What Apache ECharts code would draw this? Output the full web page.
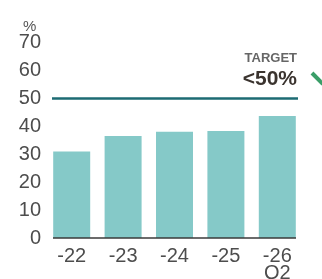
<!DOCTYPE html>
<html>
<head>
<meta charset="utf-8">
<script src="https://cdn.jsdelivr.net/npm/echarts@6/dist/echarts.min.js"></script>
<style>
  html, body { margin: 0; padding: 0; background: #fff; }
  #chart { width: 322px; height: 279px; }
</style>
</head>
<body>
<div id="chart"></div>
<script>
// 数据
var categories = ['-22', '-23', '-24', '-25', '-26\nQ2'];
var values = [31, 36.5, 38, 38.3, 43.7];
var targetValue = 50;
var yTicks = [0, 10, 20, 30, 40, 50, 60, 70];

var chart = echarts.init(document.getElementById('chart'));

var option = {
    animation: false,
    textStyle: { fontFamily: 'Liberation Sans' },
    title: {
        text: '%',
        left: 18,
        top: 14,
        textStyle: { fontSize: 15, fontWeight: 'normal', color: '#555', fontFamily: 'Liberation Sans' }
    },
    grid: { left: 46, right: 19, top: 42.5, bottom: 41, containLabel: false, outerBoundsMode: 'none' },
    xAxis: {
        type: 'category',
        data: categories,
        axisLine: { show: false },
        axisTick: { show: false },
        axisLabel: {
            color: '#4d4d4d',
            fontSize: 20,
            margin: 10,
            lineHeight: 17
        }
    },
    yAxis: {
        type: 'value',
        min: yTicks[0],
        max: yTicks[yTicks.length - 1],
        interval: 10,
        axisLine: { show: false },
        axisTick: { show: false },
        splitLine: { show: false },
        axisLabel: { color: '#4d4d4d', fontSize: 20, margin: 5 }
    },
    series: [{
        type: 'bar',
        data: values,
        barWidth: 37,
        itemStyle: { color: '#85c9c8' },
        markLine: {
            silent: true,
            symbol: 'none',
            label: { show: false },
            data: [
                [
                    { x: 52, yAxis: targetValue, lineStyle: { color: '#1d6b73', width: 2.5, type: 'solid' } },
                    { x: 298, yAxis: targetValue }
                ],
                [
                    { x: 53, yAxis: 0, lineStyle: { color: '#3a3a3a', width: 1.5, type: 'solid' } },
                    { x: 296, yAxis: 0 }
                ]
            ]
        }
    }],
    graphic: [
        {
            type: 'text',
            right: 25,
            top: 52,
            style: { text: 'TARGET', fill: '#666', font: 'bold 13px "Liberation Sans"', textAlign: 'right' }
        },
        {
            type: 'text',
            right: 25,
            top: 69,
            style: { text: '<50%', fill: '#3a332e', font: 'bold 21px "Liberation Sans"', textAlign: 'right' }
        },
        {
            type: 'polyline',
            shape: { points: [[312, 73], [323, 84]] },
            style: { stroke: '#3a9e68', lineWidth: 4 }
        }
    ]
};

chart.setOption(option);
</script>
</body>
</html>
